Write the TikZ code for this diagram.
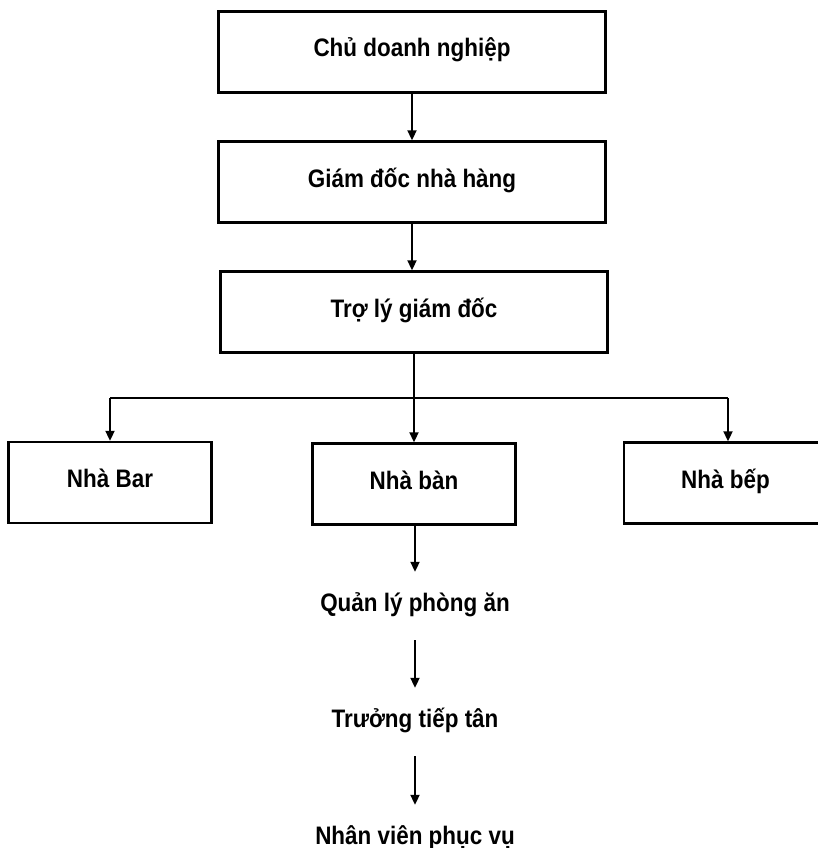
\documentclass[tikz,border=0pt]{standalone}
\usepackage{fontspec}
\setmainfont{Liberation Sans}
\usetikzlibrary{arrows.meta}

% text is set slightly taller than the font's natural shape
\newcommand{\tallbf}[1]{\scalebox{1.02}[1.15]{\bfseries #1}}

\tikzset{
  orgbox/.style={draw=black, line width=2.4pt, minimum width=387pt, minimum height=81pt,
                 inner sep=0pt, text height=15pt, text depth=5pt,
                 font=\fontsize{22pt}{24pt}\selectfont},
  unitbox/.style={orgbox, minimum width=203pt},
  plainlabel/.style={inner xsep=0pt, inner ysep=24pt, anchor=base,
                     text height=15pt, text depth=5pt,
                     font=\fontsize{22pt}{24pt}\selectfont},
  link/.style={line width=2pt, draw=black},
  arr/.style={link, -{Triangle[length=10pt,width=9pt]}},
}

\begin{document}
\begin{tikzpicture}[x=1pt, y=-1pt]
  \clip (0,0) rectangle (818,848);
  \fill[white] (0,0) rectangle (818,848);

  % management chain
  \node[orgbox] (owner)  at (412,52)  {\tallbf{Chủ doanh nghiệp}};
  \node[orgbox] (gm)     at (412,182) {\tallbf{Giám đốc nhà hàng}};
  \node[orgbox] (asst)   at (414,312) {\tallbf{Trợ lý giám đốc}};

  % departments
  \node[unitbox] (bar)     at (110,482.5)  {\tallbf{Nhà Bar}};
  \node[unitbox] (dining)  at (414,484)  {\tallbf{Nhà bàn}};
  \node[unitbox] (kitchen) at (725.5,483)  {\tallbf{Nhà bếp}};

  % dining-room staff line
  \node[plainlabel] (roommgr) at (415,611) {\tallbf{Quản lý phòng ăn}};
  \node[plainlabel] (host)    at (415,727) {\tallbf{Trưởng tiếp tân}};
  \node[plainlabel] (waiter)  at (415,844) {\tallbf{Nhân viên phục vụ}};

  % connectors
  \draw[arr] (owner.south) -- (gm.north);
  \draw[arr] (gm.south) -- (gm.south |- asst.north);

  \coordinate (jl) at (110,398);
  \coordinate (jr) at (728,398);
  \draw[link] (jl) -- (jr);
  \draw[arr] (asst.south) -- (dining.north);
  \draw[arr] (jl) -- (jl |- bar.north);
  \draw[arr] (jr) -- (jr |- kitchen.north);

  \draw[arr] (dining.south -| roommgr.north) -- (roommgr.north);
  \draw[arr] (roommgr.south) -- (host.north);
  \draw[arr] (host.south) -- (waiter.north);
\end{tikzpicture}
\end{document}
